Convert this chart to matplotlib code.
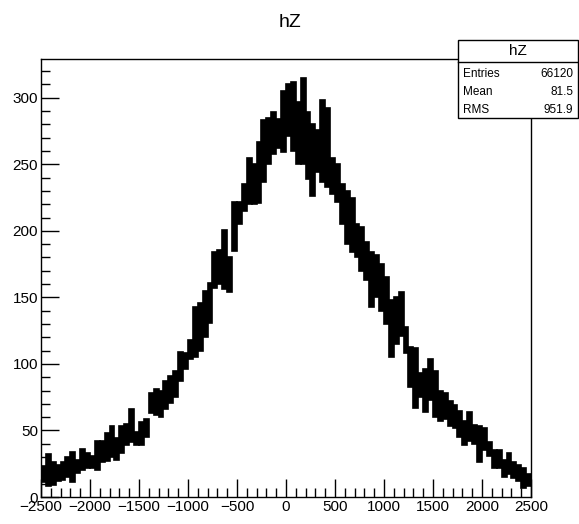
import numpy as np
import matplotlib
matplotlib.use("Agg")
from matplotlib import pyplot as plt
from matplotlib.ticker import MultipleLocator

plt.rcParams["font.family"] = ["Liberation Sans", "DejaVu Sans"]

# hZ histogram: 100 bins of width 50 from -2500 to 2500
# band_lo / band_hi = lower and upper edge of the (thick) error band
x_min, x_max = -2500, 2500
band_lo = [11, 8, 9, 12, 13, 15, 11, 18, 20, 22,
           22, 20, 26, 27, 30, 28, 33, 39, 41, 39,
           39, 45, 63, 62, 60, 66, 71, 75, 87, 96,
           104, 105, 110, 120, 131, 157, 160, 156, 154, 185,
           205, 215, 220, 220, 221, 237, 250, 258, 262, 259,
           271, 260, 250, 250, 239, 226, 244, 237, 233, 228,
           222, 205, 190, 184, 180, 170, 163, 143, 150, 140,
           130, 105, 115, 121, 108, 83, 67, 75, 64, 73,
           60, 57, 59, 53, 52, 45, 39, 42, 40, 26,
           35, 31, 22, 22, 15, 17, 14, 12, 7, 8]
band_hi = [23, 32, 26, 24, 26, 30, 34, 28, 36, 33,
           31, 42, 42, 48, 53, 44, 53, 55, 66, 49,
           56, 59, 78, 81, 80, 87, 91, 95, 109, 108,
           118, 143, 146, 155, 161, 184, 186, 201, 180, 222,
           222, 235, 255, 250, 267, 283, 285, 289, 284, 305,
           310, 312, 297, 315, 289, 280, 276, 298, 292, 255,
           250, 235, 230, 225, 205, 203, 192, 184, 182, 175,
           165, 148, 150, 154, 128, 113, 112, 93, 96, 104,
           95, 80, 78, 72, 69, 65, 57, 64, 54, 53,
           52, 41, 35, 35, 28, 33, 26, 24, 22, 17]

stats_labels = ["Entries", "Mean", "RMS"]
stats_values = ["66120", "81.5", "951.9"]

lo = np.array(band_lo, dtype=float)
hi = np.array(band_hi, dtype=float)
edges = np.linspace(x_min, x_max, len(lo) + 1)
centers = 0.5 * (edges[:-1] + edges[1:])
width = edges[1] - edges[0]

fig = plt.figure(figsize=(5.79, 5.24), dpi=100)
ax = fig.add_axes([0.0708, 0.0515, 0.8463, 0.8355])

ax.bar(centers, hi - lo, bottom=lo, width=width, color="black",
       edgecolor="black", linewidth=1.2)

ax.set_xlim(x_min, x_max)
ax.set_ylim(0, 329)
ax.xaxis.set_major_locator(MultipleLocator(500))
ax.xaxis.set_minor_locator(MultipleLocator(100))
ax.yaxis.set_major_locator(MultipleLocator(50))
ax.yaxis.set_minor_locator(MultipleLocator(10))
ax.tick_params(which="both", direction="in", top=False, right=False,
               labelsize=11, width=1.0, colors="black")
ax.tick_params(which="major", length=13, pad=2)
ax.tick_params(which="minor", length=6.5)
for s in ax.spines.values():
    s.set_linewidth(1.0)

fig.text(0.5, 0.957, "hZ", ha="center", va="center", fontsize=14)

# stats box
box = plt.Rectangle((0.791, 0.775), 0.207, 0.149, transform=fig.transFigure,
                    facecolor="white", edgecolor="black", linewidth=1.0, zorder=5)
fig.patches.append(box)
fig.add_artist(plt.Line2D([0.791, 0.998], [0.882, 0.882], color="black",
                          linewidth=1.0, transform=fig.transFigure, zorder=6))
fig.text(0.894, 0.903, "hZ", ha="center", va="center", fontsize=11, zorder=7)
for k, (lab, val) in enumerate(zip(stats_labels, stats_values)):
    yy = 0.859 - k * 0.0345
    fig.text(0.800, yy, lab, ha="left", va="center", fontsize=8.5, zorder=7)
    fig.text(0.990, yy, val, ha="right", va="center", fontsize=8.5, zorder=7)

plt.savefig("out.png", dpi=100)
plt.close()
